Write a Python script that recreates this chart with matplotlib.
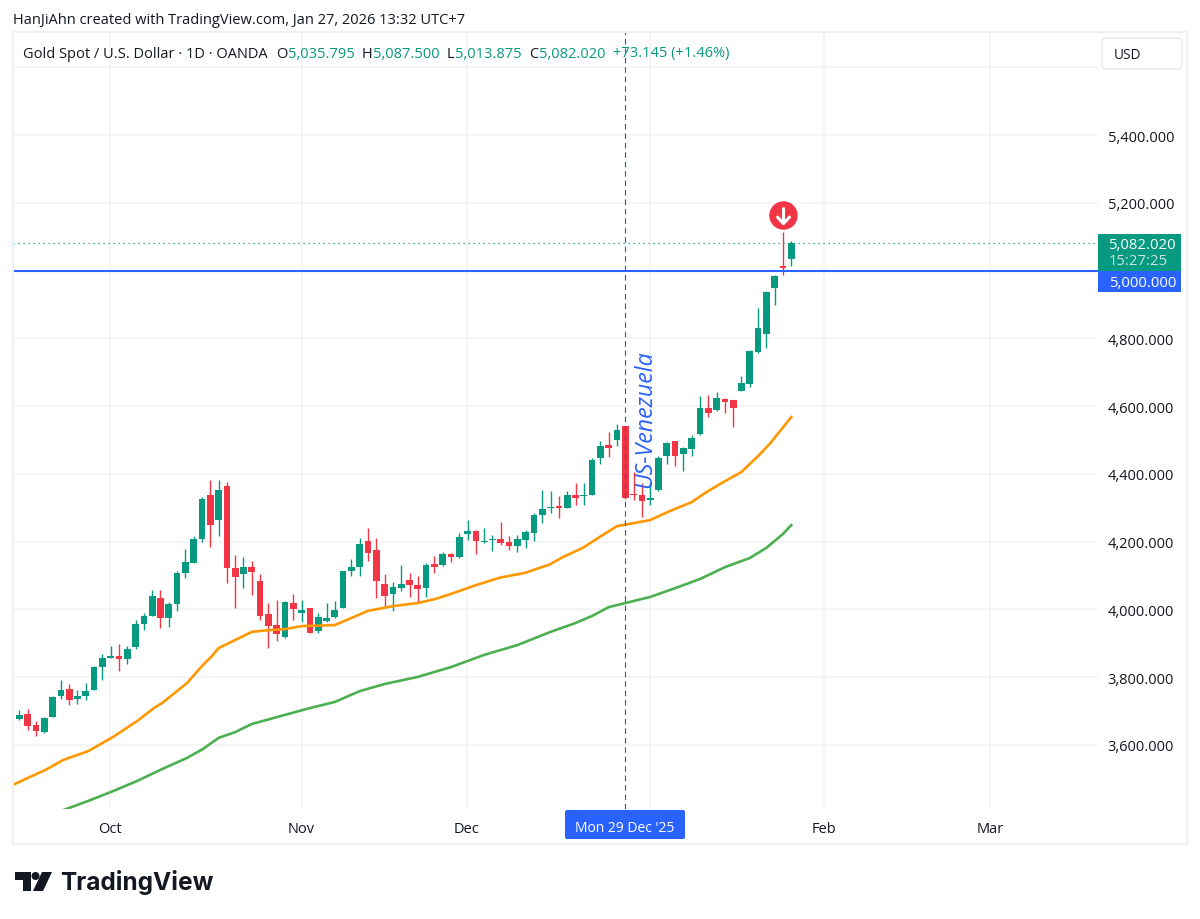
import matplotlib
matplotlib.use("Agg")
import matplotlib.pyplot as plt
from matplotlib.patches import Rectangle, FancyBboxPatch, Circle, Polygon
from matplotlib.path import Path

FONT = "Open Sans"
plt.rcParams["font.family"] = [FONT, "DejaVu Sans"]

opens = [3642,3677,3691,3659,3639,3683,3744,3764,3736,3744,3763,3830,3857,3863,3854,3888,3956,3982,4033,3974,
         4015,4108,4138,4208,4337,4265,4366,4122,4105,4125,4084,3986,3955,3918,4019,3991,4004,3936,3965,3977,
         4003,4114,4126,4202,4175,4075,4046,4064,4087,4072,4064,4133,4131,4164,4155,4224,4231,4199,4205,4208,
         4198,4187,4205,4227,4279,4301,4307,4299,4337,4335,4338,4447,4487,4499,4542,4340,4339,4324,4353,4453,
         4497,4458,4473,4517,4595,4588,4621,4618,4646,4667,4761,4814,4949,5015,5035.795]
highs = [3677,3703,3706,3671,3684,3744,3792,3780,3762,3783,3832,3870,3893,3897,3891,3970,3989,4058,4057,4021,
         4115,4178,4216,4332,4381,4381,4375,4160,4155,4142,4106,4019,4028,4024,4045,4029,4004,3989,4019,4025,
         4115,4149,4211,4242,4211,4105,4081,4131,4107,4100,4137,4157,4171,4166,4225,4264,4235,4240,4220,4257,
         4217,4220,4236,4285,4352,4349,4334,4349,4372,4373,4446,4498,4525,4549,4543,4405,4372,4375,4454,4495,
         4498,4479,4515,4630,4633,4643,4624,4618,4689,4765,4889,4941,4988,5113,5087.5]
lows = [3642,3675,3645,3627,3634,3683,3737,3718,3721,3734,3763,3793,3856,3818,3839,3883,3940,3981,3944,3947,
        3996,4092,4137,4200,4185,4218,4079,4003,4064,4043,3970,3886,3906,3916,3970,3962,3930,3930,3962,3976,
        4003,4098,4100,4144,4033,4006,3996,4055,4038,4019,4038,4107,4129,4141,4153,4206,4164,4196,4172,4191,
        4175,4170,4181,4202,4256,4285,4270,4299,4308,4308,4338,4429,4449,4484,4326,4322,4274,4309,4351,4430,
        4423,4409,4452,4516,4569,4587,4581,4538,4646,4658,4756,4772,4899,4988,5013.875]
closes = [3677,3688,3657,3642,3681,3743,3761,3734,3746,3758,3831,3858,3863,3854,3884,3958,3982,4040,3974,4016,
          4107,4139,4207,4325,4250,4354,4123,4097,4125,4111,3980,3951,3927,4023,4000,3998,3930,3978,3976,3999,
          4113,4125,4193,4168,4083,4041,4065,4075,4073,4061,4131,4126,4164,4156,4214,4231,4202,4202,4208,4197,
          4187,4208,4228,4279,4298,4304,4299,4337,4329,4338,4442,4483,4477,4530,4330,4338,4321,4330,4448,4492,
          4453,4478,4507,4595,4581,4624,4614,4594,4669,4762,4830,4936,4985,5007,5082.02]

orange_idx = [0.2,2.3,4.1,6.3,9.3,12.3,15.2,17.2,18.2,21.2,23.1,24.1,25,27,29,31,33,35,39,41,43,46,49,51.1,53,56,
              58.9,61.9,64.9,66.5,68.9,70.7,73,75,77,79.4,82,83.8,85.8,88,90,91.4,94]
orange_ma = [3482,3506,3526,3556,3582,3624,3671,3709,3724,3783,3836,3860,3886,3910,3934,3939,3942,3951,3954,3975,
             3996,4010,4019,4031,4046,4072,4094,4108,4133,4155,4182,4211,4246,4255,4264,4291,4317,4347,4376,4406,
             4453,4489,4568]
green_idx = [6.3,9.3,12.3,15.2,18.2,21.2,23.1,25,27,29,33,36,39,42,45,49,53,57,61,65,68,70,72,74,77,80,83,86,89,91,93,94]
green_ma = [3408,3435,3464,3494,3529,3562,3588,3621,3638,3662,3689,3709,3727,3759,3780,3801,3830,3866,3895,3934,
            3960,3981,4007,4019,4037,4063,4090,4125,4152,4182,4223,4249]

price_ticks = [3600,3800,4000,4200,4400,4600,4800,5000,5200,5400,5600]
price_labels = ["3,600.000","3,800.000","4,000.000","4,200.000","4,400.000","4,600.000","4,800.000","",
                "5,200.000","5,400.000",""]
month_idx = [11.9,35,54.9,77,97.9,118]
month_labels = ["Oct","Nov","Dec","","Feb","Mar"]
cursor_idx = 74
level = 5000
last_close = 5082.02
event_idx = 93
event_price = 5165
note_text = "US-Venezuela"

GREEN, RED = "#089981", "#F23645"
GRID, BORDER = "#F4F5F8", "#EEF0F4"
BLUE = "#2962FF"
TXT = "#131722"

W, H = 1200, 920
L, R, T, B = 13, 1098, 33, 810
fig = plt.figure(figsize=(W/100, H/100), dpi=100, facecolor="white")
ax = fig.add_axes([L/W, 1-B/H, (R-L)/W, (B-T)/H])
ax.set_xlim((L-11.1)/8.3, (R-11.1)/8.3)
ax.set_ylim(3600+(746-B)*2.952, 3600+(746-T)*2.952)
for s in ax.spines.values():
    s.set_visible(False)
ax.yaxis.tick_right()
ax.set_yticks(price_ticks, price_labels, fontsize=10.5, color=TXT)
ax.set_xticks(month_idx, month_labels, fontsize=10.5, color=TXT)
ax.tick_params(length=0)
ax.tick_params(axis="y", pad=7)
ax.tick_params(axis="x", pad=9)
ax.grid(True, color=GRID, lw=1.3)
ax.set_axisbelow(True)

xs = list(range(len(opens)))
cols = [GREEN if c >= o else RED for o, c in zip(opens, closes)]
ax.vlines(xs, lows, highs, colors=cols, lw=1.0, zorder=3)
ax.bar(xs, [abs(c-o) for o, c in zip(opens, closes)], bottom=[min(o, c) for o, c in zip(opens, closes)],
       width=0.8, color=cols, linewidth=0, zorder=4)
ax.plot(orange_idx, orange_ma, color="#FF9800", lw=1.9, zorder=5)
ax.plot(green_idx, green_ma, color="#4CAF50", lw=1.9, zorder=5)
ax.axhline(last_close, color=GREEN, lw=0.9, ls=(0, (1, 3)), zorder=2)
ax.axhline(level, color=BLUE, lw=1.5, zorder=6)
ax.axvline(cursor_idx, color="#2A4FD0", lw=0.8, ls=(0, (5, 3.5)), zorder=6)
ax.plot([event_idx], [event_price], marker="o", ms=20.5, color=RED, mew=0, zorder=7, ls="none")
arrow = Path([(0, 1), (0, -1), (-0.85, -0.1), (0, -1), (0.85, -0.1)],
             [Path.MOVETO, Path.LINETO, Path.MOVETO, Path.LINETO, Path.LINETO])
ax.plot([event_idx], [event_price], marker=arrow, ms=11.5, mfc="none", mec="white", mew=2.2, zorder=8, ls="none")
ax.text(cursor_idx+2.4, 4767, note_text, rotation=90, color=BLUE, fontsize=16.7, style="italic",
        ha="center", va="top", zorder=9)

ov = fig.add_axes([0, 0, 1, 1], zorder=10)
ov.set_xlim(0, W); ov.set_ylim(H, 0); ov.axis("off")
ov.add_patch(Rectangle((13, 33), 1174, 812, fill=False, ec=BORDER, lw=1.5))
ov.text(13, 20.5, "HanJiAhn created with TradingView.com, Jan 27, 2026 13:32 UTC+7", fontsize=10.5, color=TXT, va="center")

hdr = [(23, "Gold Spot / U.S. Dollar · 1D · OANDA", TXT), (276, "O", TXT), (288, "5,035.795", GREEN),
       (362, "H", TXT), (373, "5,087.500", GREEN), (447, "L", TXT), (455, "5,013.875", GREEN),
       (529, "C", TXT), (539, "5,082.020", GREEN), (613, "+73.145 (+1.46%)", GREEN)]
for x, s, c in hdr:
    ov.text(x, 54, s, fontsize=10.5, color=c, va="center")

ov.add_patch(FancyBboxPatch((1102, 39), 80, 31, boxstyle="round,pad=0,rounding_size=4",
                            fc="white", ec="#E6E8EE", lw=1))
ov.text(1114, 55.5, "USD", fontsize=9.8, color=TXT, va="center")

ov.add_patch(Rectangle((1098, 235), 83, 37, fc=GREEN, ec="none"))
ov.text(1176, 245.5, "5,082.020", fontsize=10.7, color="white", va="center", ha="right")
ov.text(1168, 261.5, "15:27:25", fontsize=10.7, color="#C4E6DF", va="center", ha="right")
ov.add_patch(Rectangle((1098, 272), 83, 21, fc=BLUE, ec="none"))
ov.text(1176, 283.5, "5,000.000", fontsize=10.7, color="white", va="center", ha="right")

ov.add_patch(FancyBboxPatch((565, 811), 120, 29, boxstyle="round,pad=0,rounding_size=2", fc=BLUE, ec="none"))
ov.text(625, 828.5, "Mon 29 Dec '25", fontsize=10, color="white", va="center", ha="center")

# TradingView logo
ov.add_patch(Polygon([(15, 873), (31, 873), (31, 892), (23, 892), (23, 881), (15, 881)], fc="#131722", ec="none"))
ov.add_patch(Circle((35.5, 877), 4, fc="#131722", ec="none"))
ov.add_patch(Polygon([(42, 873), (52, 873), (43, 892), (33, 892)], fc="#131722", ec="none"))
ov.text(60.5, 882.5, "TradingView", fontsize=17.6, fontweight="bold", family=["Inter", "DejaVu Sans"], color="#131722", va="center")

fig.savefig("out.png", dpi=100)
